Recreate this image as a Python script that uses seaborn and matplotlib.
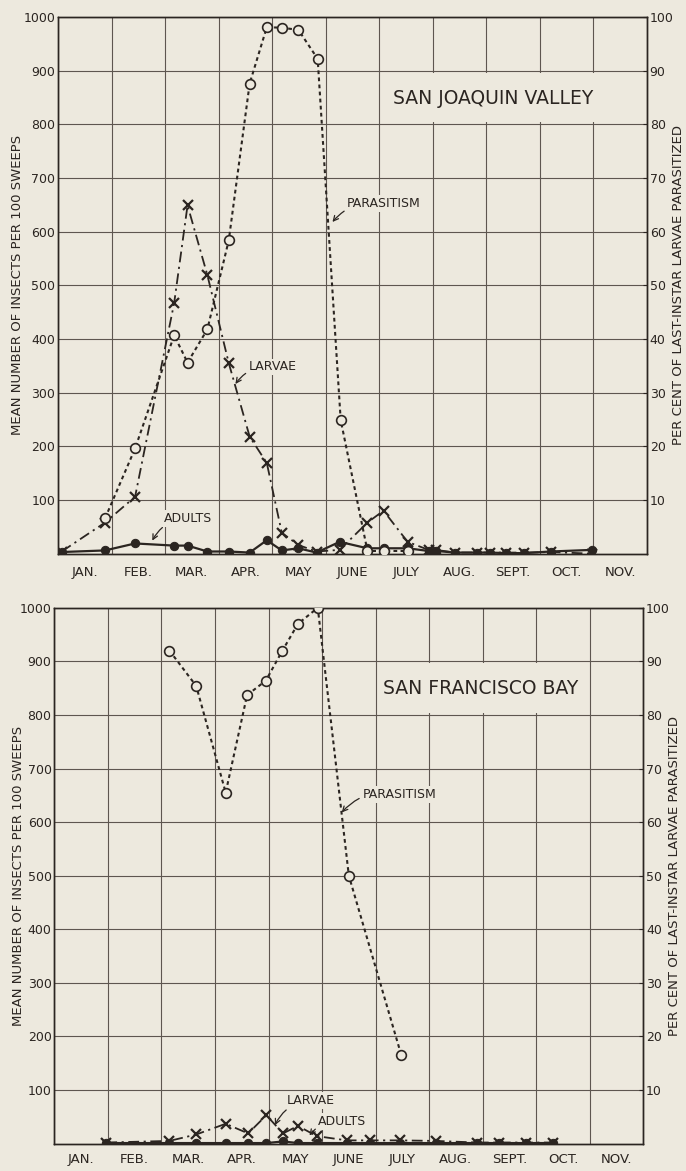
import matplotlib
matplotlib.use("Agg")
import matplotlib.pyplot as plt
import seaborn as sns
import pandas as pd
from matplotlib.patches import Rectangle

# months from Jan 1 (0 = Jan 1, 11 = end of Nov)
month_labels = ["JAN.", "FEB.", "MAR.", "APR.", "MAY", "JUNE", "JULY",
                "AUG.", "SEPT.", "OCT.", "NOV."]

# San Joaquin Valley
sj_dates = [0.07, 0.88, 1.44, 2.17, 2.42, 2.79, 3.19, 3.58, 3.90, 4.18, 4.49, 4.83,
            5.26, 5.78, 6.08, 6.53, 6.92, 7.06, 7.42, 7.82, 8.07, 8.37, 8.71, 9.20, 9.97]
sj_adults = [3, 6, 19, 15, 15, 4, 4, 2, 25, 6, 10, 2,
             22, 10, 10, 10, 5, 5, 2, 2, 2, 1, 1, 4, 7]
sj_larvae = [4, 58, 106, 467, 649, 519, 355, 218, 169, 39, 16, 4,
             7, 58, 80, 22, 7, 7, 2, 2, 2, 2, 2, 3, 0]
sj_par_dates = [0.88, 1.44, 2.17, 2.42, 2.79, 3.19, 3.58, 3.90, 4.18, 4.49, 4.85,
                5.28, 5.78, 6.08, 6.53]
sj_parasitism = [6.6, 19.6, 40.7, 35.6, 41.8, 58.4, 87.6, 98.1, 98.0, 97.6, 92.2,
                 24.9, 0.5, 0.5, 0.5]

# San Francisco Bay
sf_dates = [0.97, 2.15, 2.65, 3.20, 3.62, 3.96, 4.27, 4.55, 4.90, 5.46, 5.89, 6.46,
            7.12, 7.90, 8.31, 8.81, 9.31]
sf_adults = [1, 1, 1, 1, 1, 1, 4, 1, 1, 1, 1, 1, 1, 1, 1, 1, 1]
sf_larvae = [2, 5, 17, 37, 19, 53, 19, 33, 14, 6, 6, 6, 5, 2, 2, 2, 2]
sf_par_dates = [2.15, 2.65, 3.20, 3.60, 3.95, 4.26, 4.55, 4.92, 5.50, 6.48]
sf_parasitism = [92.0, 85.4, 65.5, 83.7, 86.4, 92.0, 97.0, 100.0, 50.0, 16.5]

left_ticks = [100, 200, 300, 400, 500, 600, 700, 800, 900, 1000]
right_ticks = [10, 20, 30, 40, 50, 60, 70, 80, 90, 100]

BG = "#ede9de"
INK = "#2b2521"
GRID = "#5e5650"

sns.set_style("white")
plt.rcParams["font.family"] = ["DejaVu Sans"]
plt.rcParams["text.color"] = INK

fig = plt.figure(figsize=(6.86, 11.71), dpi=100)
fig.patch.set_facecolor(BG)


def panel(rect, dates, adults, larvae, par_dates, par, title, ann, xpad, ylab_x):
    ax = fig.add_axes(rect)
    ax.set_facecolor(BG)
    axr = ax.twinx()
    axr.patch.set_visible(False)

    ax.set_xlim(0, 11)
    ax.set_ylim(0, 1000)
    axr.set_ylim(0, 100)
    ax.set_axisbelow(True)
    ax.set_xticks(range(12), minor=False)
    ax.set_xticklabels([])
    ax.set_xticks([m + 0.5 for m in range(11)], minor=True)
    ax.set_xticklabels(month_labels, minor=True, fontsize=9.5, color=INK)
    ax.tick_params(axis="x", which="both", length=0, pad=xpad)
    ax.set_yticks(left_ticks)
    ax.set_yticklabels([str(v) for v in left_ticks], fontsize=9, color=INK)
    ax.tick_params(axis="y", length=0, pad=2)
    axr.set_yticks(right_ticks)
    axr.set_yticklabels([str(v) for v in right_ticks], fontsize=9, color=INK)
    axr.tick_params(axis="y", length=3, width=0.8, direction="in", pad=2, color=INK)
    ax.grid(True, which="major", color=GRID, lw=0.8)
    for a in (ax, axr):
        for s in a.spines.values():
            s.set_color(INK)
            s.set_linewidth(1.0)

    # title panel that hides the grid
    ax.add_patch(Rectangle((6.04, 804), title[3] - 6.08, 92, facecolor=BG,
                           edgecolor="none", zorder=1))
    ax.text(title[1], title[2], title[0], fontsize=13.5, ha="center", va="center",
            color=INK, zorder=3)

    df_a = pd.DataFrame({"month": dates, "n": adults})
    df_l = pd.DataFrame({"month": dates, "n": larvae})
    df_p = pd.DataFrame({"month": par_dates, "pct": par})

    sns.lineplot(data=df_a, x="month", y="n", ax=ax, sort=False, estimator=None,
                 color=INK, lw=1.6, marker="o", markersize=6,
                 markerfacecolor=INK, markeredgecolor=INK, zorder=4)
    sns.lineplot(data=df_l, x="month", y="n", ax=ax, sort=False, estimator=None,
                 color=INK, lw=1.3, linestyle=(0, (6, 2.5, 1.2, 2.5)), marker="x",
                 markersize=7, markeredgewidth=1.6, markeredgecolor=INK, zorder=4)
    sns.lineplot(data=df_p, x="month", y="pct", ax=axr, sort=False, estimator=None,
                 color=INK, lw=1.5, linestyle=(0, (1.8, 1.6)), marker="o",
                 markersize=7, markerfacecolor=BG, markeredgecolor=INK,
                 markeredgewidth=1.2, zorder=4)
    for a in (ax, axr):
        a.set_xlabel("")
        a.set_ylabel("")

    for txt, xt, yt, xh, yh in ann:
        ax.annotate(txt, xy=(xh, yh), xytext=(xt, yt), fontsize=9, ha="center",
                    va="center", color=INK, zorder=5,
                    bbox=dict(boxstyle="square,pad=0.15", fc=BG, ec="none"),
                    arrowprops=dict(arrowstyle="->", color=INK, lw=0.9,
                                    shrinkA=1, shrinkB=1,
                                    connectionstyle="arc3,rad=0.3"))

    ax.text(ylab_x, 0.5, "MEAN NUMBER OF INSECTS PER 100 SWEEPS",
            transform=ax.transAxes, rotation=90, fontsize=9.5, ha="center",
            va="center", color=INK)
    ax.text(1.053, 0.5, "PER CENT OF LAST-INSTAR LARVAE PARASITIZED",
            transform=ax.transAxes, rotation=90, fontsize=9.5, ha="center",
            va="center", color=INK)
    return ax


panel([0.0845, 0.5272, 0.8586, 0.4583], sj_dates, sj_adults, sj_larvae,
      sj_par_dates, sj_parasitism, ("SAN JOAQUIN VALLEY", 8.13, 848, 10.98),
      [("PARASITISM", 6.09, 652, 5.11, 616),
       ("LARVAE", 4.01, 348, 3.30, 314),
       ("ADULTS", 2.43, 66, 1.75, 22)], 9, -0.068)

panel([0.0792, 0.0234, 0.8586, 0.4576], sf_dates, sf_adults, sf_larvae,
      sf_par_dates, sf_parasitism, ("SAN FRANCISCO BAY", 7.96, 849, 10.0),
      [("PARASITISM", 6.44, 652, 5.35, 616),
       ("LARVAE", 4.78, 80, 4.11, 32),
       ("ADULTS", 5.38, 41, 4.75, 13)], 7, -0.061)

fig.savefig("out.png", dpi=100, facecolor=BG)
